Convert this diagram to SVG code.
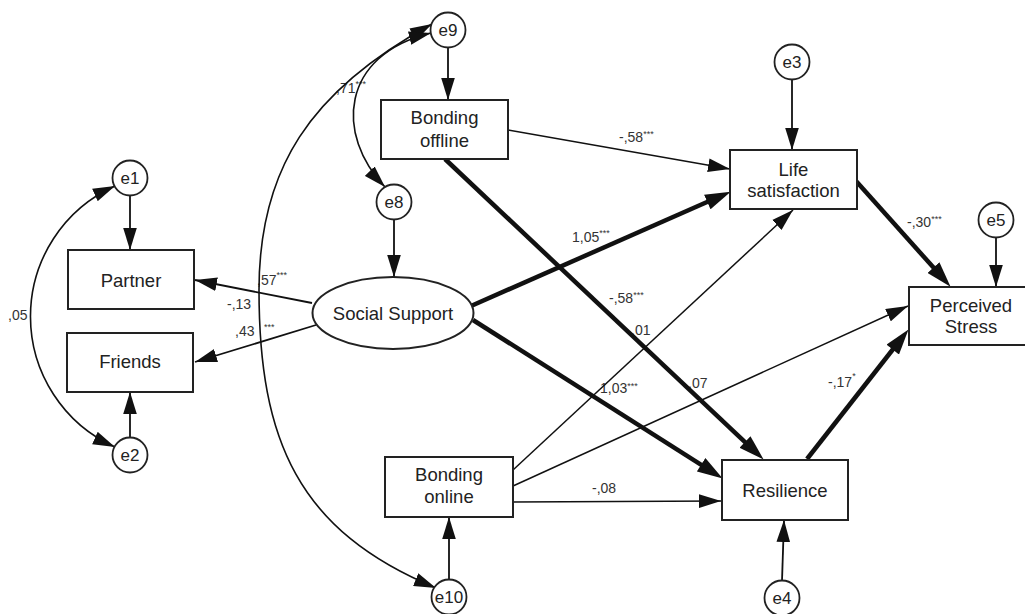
<svg xmlns="http://www.w3.org/2000/svg" width="1025" height="614" viewBox="0 0 1025 614">
  <style>
    .box { fill: #fff; stroke: #222; stroke-width: 2; }
    .err { fill: #fff; stroke: #222; stroke-width: 1.8; }
    .nt { font-family: "Liberation Sans", Arial, sans-serif; font-size: 18.5px; fill: #222; text-anchor: middle; }
    .et { font-family: "Liberation Sans", Arial, sans-serif; font-size: 17px; fill: #222; text-anchor: middle; }
    .lb { font-family: "Liberation Sans", Arial, sans-serif; font-size: 14px; fill: #333; }
    .st { font-size: 9px; }
    .thin { fill: none; stroke: #111; stroke-width: 1.5; marker-end: url(#ah); }
    .mid { fill: none; stroke: #111; stroke-width: 1.8; marker-end: url(#ah); }
    .thick { fill: none; stroke: #111; stroke-width: 4.5; marker-end: url(#ahT); }
    .cov { fill: none; stroke: #111; stroke-width: 1.6; marker-start: url(#ahS); marker-end: url(#ah); }
  </style>
  <defs>
    <marker id="ah" markerUnits="userSpaceOnUse" markerWidth="22" markerHeight="14" viewBox="0 0 21 13" refX="21" refY="6.5" orient="auto">
      <path d="M0,0 L21,6.5 L0,13 z" fill="#111"/>
    </marker>
    <marker id="ahS" markerUnits="userSpaceOnUse" markerWidth="22" markerHeight="14" viewBox="0 0 21 13" refX="21" refY="6.5" orient="auto-start-reverse">
      <path d="M0,0 L21,6.5 L0,13 z" fill="#111"/>
    </marker>
    <marker id="ahT" markerUnits="userSpaceOnUse" markerWidth="26" markerHeight="16" viewBox="0 0 24 15" refX="12" refY="7.5" orient="auto">
      <path d="M0,0 L24,7.5 L0,15 z" fill="#111"/>
    </marker>
  </defs>
  <rect width="1025" height="614" fill="#fff"/>

  <g id="labels">
    <text class="lb" x="336" y="93">,71<tspan class="st" dy="-6">***</tspan></text>
    <text class="lb" x="257" y="285">,57<tspan class="st" dy="-7">***</tspan></text>
    <text class="lb" x="227" y="309">-,13</text>
    <text class="lb" x="235" y="336">,43 <tspan class="st" x="264" dy="-6">***</tspan></text>
    <text class="lb" x="8" y="320">,05</text>
    <text class="lb" x="619" y="142">-,58<tspan class="st" dy="-5">***</tspan></text>
    <text class="lb" x="572" y="242">1,05<tspan class="st" dy="-6">***</tspan></text>
    <text class="lb" x="609" y="303">-,58<tspan class="st" dy="-5">***</tspan></text>
    <text class="lb" x="631" y="335">,01</text>
    <text class="lb" x="600" y="393">1,03<tspan class="st" dy="-4">***</tspan></text>
    <text class="lb" x="688" y="388">,07</text>
    <text class="lb" x="828" y="387">-,17<tspan class="st" dy="-8">*</tspan></text>
    <text class="lb" x="592" y="493">-,08</text>
    <text class="lb" x="907" y="227">-,30<tspan class="st" dy="-5">***</tspan></text>
  </g>

  <g id="connectors">
    <!-- covariances -->
    <path class="cov" d="M115,186 A143,143 0 0 0 115,447"/>
    <path class="cov" d="M432,24 C309,91 259,170 259,290 C259,440 298,531 436,588"/>
    <path class="cov" d="M431,33 C340,55 335,135 385,187"/>
    <!-- error terms -->
    <path class="mid" d="M130,196 L130,250"/>
    <path class="mid" d="M130,438 L130,392"/>
    <path class="mid" d="M394,220 L394,277"/>
    <path class="mid" d="M448,48 L448,100"/>
    <path class="mid" d="M792,80 L792,150"/>
    <path class="mid" d="M996,238 L996,287"/>
    <path class="mid" d="M782,581 L784,520"/>
    <path class="mid" d="M449,579 L449,517"/>
    <!-- loadings -->
    <path class="mid" d="M312,303 L195,280"/>
    <path class="mid" d="M316,325 L195,362"/>
    <!-- thin paths -->
    <path class="thin" d="M508,130 L730,169"/>
    <path class="thin" d="M513,470 L793,210"/>
    <path class="thin" d="M513,486 L908,306"/>
    <path class="thin" d="M513,502 L721,501"/>
    <!-- thick paths -->
    <path class="thick" d="M471,306 L719,196.8"/>
    <path class="thick" d="M473,320 L711.9,471.6"/>
    <path class="thick" d="M445,159 L754.3,450.8"/>
    <path class="thick" d="M856,181 L942,277.1"/>
    <path class="thick" d="M807,459 L900.6,339.5"/>
  </g>

  <g id="e1"><circle class="err" cx="130" cy="178" r="17.5"/><text class="et" x="130" y="184">e1</text></g>
  <g id="e2"><circle class="err" cx="130" cy="455" r="17.5"/><text class="et" x="130" y="461">e2</text></g>
  <g id="e8"><circle class="err" cx="394" cy="202" r="17.5"/><text class="et" x="394" y="208">e8</text></g>
  <g id="e9"><circle class="err" cx="448" cy="30" r="17.5"/><text class="et" x="448" y="36">e9</text></g>
  <g id="e3"><circle class="err" cx="792" cy="62" r="17.5"/><text class="et" x="792" y="68">e3</text></g>
  <g id="e5"><circle class="err" cx="996" cy="220" r="17.5"/><text class="et" x="996" y="226">e5</text></g>
  <g id="e4"><circle class="err" cx="782" cy="598" r="17.5"/><text class="et" x="782" y="604">e4</text></g>
  <g id="e10"><circle class="err" cx="449" cy="597" r="17.5"/><text class="et" x="449" y="603">e10</text></g>

  <g id="partner"><rect class="box" x="68" y="250" width="126" height="59"/><text class="nt" x="131" y="287">Partner</text></g>
  <g id="friends"><rect class="box" x="67" y="333" width="126" height="59"/><text class="nt" x="130" y="368">Friends</text></g>
  <g id="social-support"><ellipse class="box" cx="393" cy="313" rx="80.5" ry="36"/><text class="nt" x="393" y="320">Social Support</text></g>
  <g id="bonding-offline"><rect class="box" x="381" y="100" width="127" height="59"/><text class="nt" x="444.5" y="124">Bonding</text><text class="nt" x="444.5" y="147">offline</text></g>
  <g id="bonding-online"><rect class="box" x="385" y="457" width="128" height="60"/><text class="nt" x="449" y="481">Bonding</text><text class="nt" x="449" y="503">online</text></g>
  <g id="life-satisfaction"><rect class="box" x="730" y="150" width="127" height="59"/><text class="nt" x="793.5" y="176">Life</text><text class="nt" x="793.5" y="197">satisfaction</text></g>
  <g id="resilience"><rect class="box" x="722" y="460" width="126" height="60"/><text class="nt" x="785" y="497">Resilience</text></g>
  <g id="perceived-stress"><rect class="box" x="909" y="287" width="124" height="58"/><text class="nt" x="971" y="312">Perceived</text><text class="nt" x="971" y="333">Stress</text></g>
</svg>
